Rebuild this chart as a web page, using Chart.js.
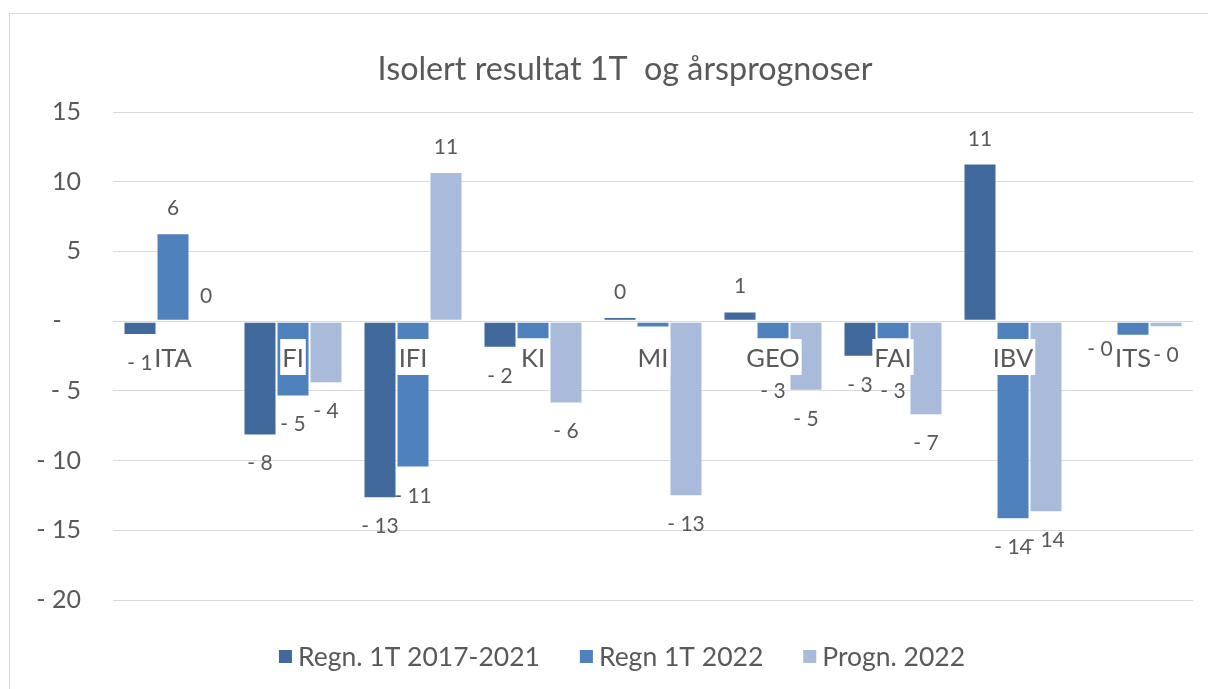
<!DOCTYPE html>
<html>
<head>
<meta charset="utf-8">
<script src="https://cdn.jsdelivr.net/npm/chart.js@4.4.1/dist/chart.umd.min.js"></script>
<style>
  html, body { margin: 0; padding: 0; background: #fff; overflow: hidden; }
  #frame { position: absolute; left: 9px; top: 13px; width: 1400px; height: 900px; border: 1px solid #d9d9d9; }
  #wrap { position: absolute; left: 0; top: 0; width: 1208px; height: 689px; }
</style>
</head>
<body>
<div id="frame"></div>
<div id="wrap"><canvas id="chart" width="1208" height="689" style="width:1208px;height:689px"></canvas></div>
<script>
// --- data ---
const categories = ['ITA', 'FI', 'IFI', 'KI', 'MI', 'GEO', 'FAI', 'IBV', 'ITS'];
const regn1721 = [-1.0, -8.2, -12.7, -1.9, 0.3, 0.7, -2.55, 11.3, -0.02];
const regn2022 = [6.3, -5.4, -10.5, -1.3, -0.45, -1.3, -1.3, -14.2, -1.05];
const progn2022 = [0, -4.45, 10.7, -5.9, -12.55, -5.0, -6.75, -13.7, -0.43];

// data labels as shown in the picture
const labels1721 = ['- 1', '- 8', '- 13', '- 2', '0', '1', '- 3', '11', '- 0'];
const labels2022 = ['6', '- 5', '- 11', '- 1', '- 0', '- 3', '- 3', '- 14', '- 1'];
const labelsProgn = ['0', '- 4', '11', '- 6', '- 13', '- 5', '- 7', '- 14', '- 0'];

const yTicks = [15, 10, 5, 0, -5, -10, -15, -20];

const FONT = 'Lato';
const TEXT = '#595959';
const COLORS = ['#41699b', '#4f81bd', '#a9badb'];

const fmt = (v) => {
    if (v === 0) return '-   ';
    return v < 0 ? '- ' + Math.abs(v) : String(v);
};

// --- plugin: data labels, category labels on the axis, title, legend ---
const excelBits = {
    id: 'excelBits',
    afterDatasetsDraw(chart) {
        const ctx = chart.ctx;
        const y = chart.scales.y;
        const allLabels = [labels1721, labels2022, labelsProgn];

        ctx.save();
        ctx.fillStyle = TEXT;
        ctx.font = `21px ${FONT}`;
        ctx.textAlign = 'center';
        ctx.textBaseline = 'alphabetic';
        chart.data.datasets.forEach((ds, di) => {
            const meta = chart.getDatasetMeta(di);
            meta.data.forEach((bar, i) => {
                const txt = allLabels[di][i];
                const v = ds.data[i];
                const lv = parseFloat(txt.replace('- ', '-'));
                const anchor = Math.abs(lv - v) > 1 ? lv : v;
                const neg = txt.startsWith('-');
                const py = y.getPixelForValue(anchor);
                ctx.fillText(txt, bar.x, neg ? py + 35 : py - 18);
            });
        });

        // category names sit on the zero line with a white box behind them
        const x = chart.scales.x;
        ctx.font = `25.5px ${FONT}`;
        categories.forEach((c, i) => {
            const cx = x.getPixelForValue(i);
            const w = ctx.measureText(c).width + 4;
            ctx.fillStyle = '#ffffff';
            ctx.fillRect(cx - w / 2, 339, w, 36);
            ctx.fillStyle = TEXT;
            ctx.fillText(c, cx, 367);
        });
        ctx.restore();
    },
    afterDraw(chart) {
        const ctx = chart.ctx;
        ctx.save();
        ctx.fillStyle = TEXT;
        ctx.textBaseline = 'alphabetic';

        // title
        ctx.font = `32.3px ${FONT}`;
        ctx.textAlign = 'center';
        ctx.fillText('Isolert resultat 1T  og årsprognoser', 625, 80);

        // legend, centred under the chart
        ctx.font = `26.5px ${FONT}`;
        ctx.textAlign = 'left';
        const box = 13, gapText = 6, gapItem = 40;
        const items = chart.data.datasets.map(ds => ({
            ds, w: box + gapText + ctx.measureText(ds.label).width
        }));
        const total = items.reduce((a, it) => a + it.w, 0) + gapItem * (items.length - 1);
        let lx = 622 - total / 2;
        items.forEach(({ ds, w }) => {
            ctx.fillStyle = ds.backgroundColor;
            ctx.fillRect(lx, 650, box, box);
            ctx.fillStyle = TEXT;
            ctx.fillText(ds.label, lx + box + gapText, 666);
            lx += w + gapItem;
        });
        ctx.restore();
    }
};

new Chart(document.getElementById('chart'), {
    type: 'bar',
    data: {
        labels: categories,
        datasets: [
            { label: 'Regn. 1T 2017-2021', data: regn1721, backgroundColor: COLORS[0] },
            { label: 'Regn 1T 2022', data: regn2022, backgroundColor: COLORS[1] },
            { label: 'Progn. 2022', data: progn2022, backgroundColor: COLORS[2] }
        ]
    },
    options: {
        responsive: false,
        animation: false,
        devicePixelRatio: 1,
        layout: { padding: { left: 0, right: 1208 - 1193, top: 112, bottom: 89 } },
        datasets: {
            bar: {
                categoryPercentage: 0.825,
                barPercentage: 1,
                borderWidth: 1,
                borderColor: 'rgba(255,255,255,0.55)',
                borderSkipped: false
            }
        },
        plugins: {
            legend: { display: false },
            title: { display: false },
            tooltip: { enabled: false }
        },
        scales: {
            x: { display: false },
            y: {
                min: -20,
                max: 15,
                afterBuildTicks: (s) => { s.ticks = yTicks.map(v => ({ value: v })); },
                afterFit: (s) => { s.width = 113; },
                ticks: {
                    color: TEXT,
                    font: { family: FONT, size: 25 },
                    padding: 32,
                    callback: (v) => fmt(v)
                },
                grid: { color: '#d9d9d9', drawTicks: false, lineWidth: 1 },
                border: { display: false }
            }
        }
    },
    plugins: [excelBits]
});
</script>
</body>
</html>
